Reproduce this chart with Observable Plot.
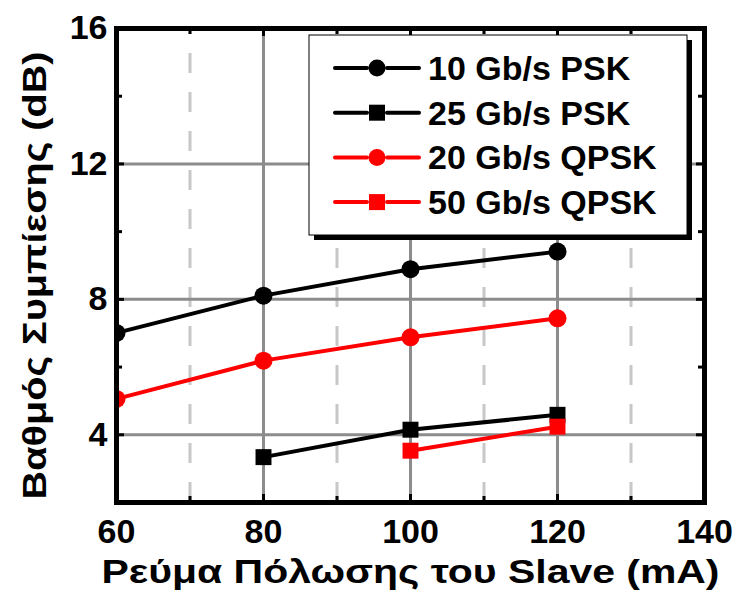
<!DOCTYPE html>
<html>
<head>
<meta charset="utf-8">
<script src="https://cdn.jsdelivr.net/npm/d3@7"></script>
<script src="https://cdn.jsdelivr.net/npm/@observablehq/plot@0.6"></script>
<style>
  html, body { margin: 0; padding: 0; background: #fff; }
  #chart { width: 736px; height: 604px; }
</style>
</head>
<body>
<div id="chart"></div>
<script>
// ---- data ----
const current = [60, 80, 100, 120];                 // Ρεύμα Πόλωσης του Slave (mA)
const psk10   = [7.01, 8.11, 8.89, 9.41];           // 10 Gb/s PSK
const psk25   = [null, 3.34, 4.15, 4.59];           // 25 Gb/s PSK
const qpsk20  = [5.06, 6.19, 6.88, 7.44];           // 20 Gb/s QPSK
const qpsk50  = [null, null, 3.53, 4.24];           // 50 Gb/s QPSK

const seriesNames   = ["10 Gb/s PSK", "25 Gb/s PSK", "20 Gb/s QPSK", "50 Gb/s QPSK"];
const seriesValues  = [psk10, psk25, qpsk20, qpsk50];
const seriesColors  = ["#000000", "#000000", "#ff0000", "#ff0000"];
const seriesSymbols = ["circle", "square", "circle", "square"];

const xTicks = [60, 80, 100, 120, 140];
const yTicks = [4, 8, 12, 16];
const xMajorGrid = [80, 100, 120];
const xMinorGrid = [70, 90, 110, 130];
const yMajorGrid = [4, 8, 12];
const yMinorTicks = [6, 10, 14];

const xTitle = "Ρεύμα Πόλωσης του Slave (mA)";
const yTitle = "Βαθμός Συμπίεσης (dB)";

// ---- table ----
const rows = [];
seriesValues.forEach((vals, s) => {
  vals.forEach((v, i) => {
    if (v != null) rows.push({series: seriesNames[s], x: current[i], y: v});
  });
});

const W = 736, H = 604;
const mL = 116, mR = 32, mT = 28, mB = 102;
const frameH = H - mT - mB, frameW = W - mL - mR;
const font = "'Liberation Sans', Arial, Helvetica, sans-serif";

const lineMarks = seriesNames.map((name, s) =>
  Plot.line(rows.filter(d => d.series === name), {
    x: "x", y: "y", stroke: seriesColors[s], strokeWidth: 4, clip: true
  })
);
const dotMarks = seriesNames.map((name, s) =>
  Plot.dot(rows.filter(d => d.series === name), {
    x: "x", y: "y", fill: seriesColors[s], stroke: "none", r: 9, symbol: seriesSymbols[s], clip: true
  })
);

const plot = Plot.plot({
  width: W, height: H,
  marginLeft: mL, marginRight: mR, marginTop: mT, marginBottom: mB,
  style: {fontFamily: font, fontSize: "34px", fontWeight: "bold", color: "#000", background: "#fff"},
  x: {domain: [60, 140], ticks: xTicks, tickSize: 0, tickPadding: 16, label: null},
  y: {domain: [2, 16], ticks: yTicks, tickSize: 0, tickPadding: 9, label: null},
  marks: [
    Plot.ruleX(xMinorGrid, {y1: 2, y2: 16, stroke: "#c8c8c8", strokeWidth: 3, strokeDasharray: "20,19"}),
    Plot.ruleX(xMajorGrid, {stroke: "#8c8c8c", strokeWidth: 3}),
    Plot.ruleY(yMajorGrid, {stroke: "#8c8c8c", strokeWidth: 3}),
    ...lineMarks,
    ...dotMarks,
    // inward ticks
    Plot.tickX(xMajorGrid, {stroke: "#000", strokeWidth: 3, insetTop: frameH - 8}),
    Plot.tickX(xMajorGrid, {stroke: "#000", strokeWidth: 3, insetBottom: frameH - 8}),
    Plot.tickX(xMinorGrid, {stroke: "#000", strokeWidth: 3, insetTop: frameH - 6}),
    Plot.tickX(xMinorGrid, {stroke: "#000", strokeWidth: 3, insetBottom: frameH - 6}),
    Plot.tickY(yMajorGrid, {stroke: "#000", strokeWidth: 3, insetRight: frameW - 8}),
    Plot.tickY(yMajorGrid, {stroke: "#000", strokeWidth: 3, insetLeft: frameW - 8}),
    Plot.tickY(yMinorTicks, {stroke: "#000", strokeWidth: 3, insetRight: frameW - 6}),
    Plot.tickY(yMinorTicks, {stroke: "#000", strokeWidth: 3, insetLeft: frameW - 6}),
    Plot.frame({stroke: "#000", strokeWidth: 5}),
    Plot.text([xTitle], {frameAnchor: "bottom", textAnchor: "middle", dy: 80, fontSize: 34, fontWeight: "bold", fill: "#000"}),
    Plot.text([yTitle], {frameAnchor: "left", textAnchor: "middle", rotate: -90, dx: -81, dy: 10, fontSize: 34, fontWeight: "bold", fill: "#000"})
  ]
});

// ---- widen the axis titles to the reference's text widths ----
const svg = d3.select(plot);
svg.selectAll("text").filter(function() { return this.textContent === xTitle; })
  .attr("textLength", 618).attr("lengthAdjust", "spacingAndGlyphs");
svg.selectAll("text").filter(function() { return this.textContent === yTitle; })
  .attr("textLength", 448).attr("lengthAdjust", "spacingAndGlyphs");

// ---- legend ----
const lg = svg.append("g").attr("class", "legend").attr("text-anchor", "start");
const bx = 309, by = 35, bw = 378, bh = 200;
lg.append("rect").attr("x", bx + 5).attr("y", by + 5).attr("width", bw).attr("height", bh).attr("fill", "#000");
lg.append("rect").attr("x", bx).attr("y", by).attr("width", bw).attr("height", bh)
  .attr("fill", "#fff").attr("stroke", "#000").attr("stroke-width", 1);
seriesNames.forEach((name, i) => {
  const cy = 68 + i * 44.7;
  const col = seriesColors[i];
  lg.append("line").attr("x1", 335).attr("x2", 367).attr("y1", cy).attr("y2", cy)
    .attr("stroke", col).attr("stroke-width", 4).attr("stroke-linecap", "round");
  lg.append("line").attr("x1", 387).attr("x2", 419).attr("y1", cy).attr("y2", cy)
    .attr("stroke", col).attr("stroke-width", 4).attr("stroke-linecap", "round");
  if (seriesSymbols[i] === "circle") {
    lg.append("circle").attr("cx", 377).attr("cy", cy).attr("r", 8.5).attr("fill", col);
  } else {
    lg.append("rect").attr("x", 377 - 8).attr("y", cy - 8).attr("width", 16).attr("height", 16).attr("fill", col);
  }
  lg.append("text").attr("x", 428).attr("y", cy + 12).attr("text-anchor", "start").text(name)
    .attr("font-family", font).attr("font-size", 34).attr("font-weight", "bold").attr("fill", "#000");
});

document.getElementById("chart").appendChild(plot);
</script>
</body>
</html>
